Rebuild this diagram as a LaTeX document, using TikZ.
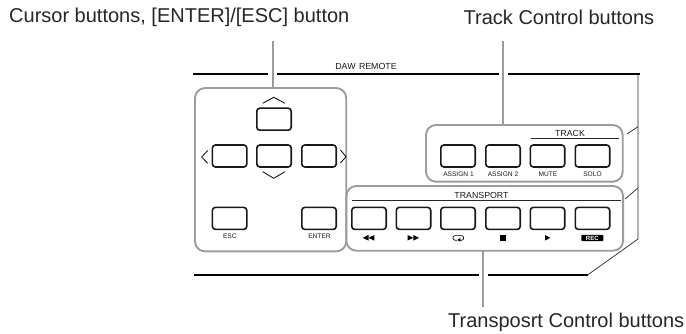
\documentclass[tikz,border=0pt]{standalone}
\usepackage{fontspec}
\setmainfont{Liberation Sans}
\definecolor{panelgray}{HTML}{9C9C9C}
\tikzset{
  btn/.style={draw=black!90,line width=1.6pt,rounded corners=3pt,minimum width=34.4pt,minimum height=22pt,inner sep=0pt,outer sep=0pt},
  panelbox/.style={draw=panelgray,line width=1.9pt,rounded corners=10pt,inner sep=0pt,outer sep=0pt},
  leader/.style={draw=panelgray,line width=2pt},
  bodyrule/.style={draw=black,line width=2.3pt},
  thinline/.style={draw=black!85,line width=0.7pt},
  chev/.style={draw=black,line width=0.8pt},
  smalltext/.style={font=\fontsize{6.6}{7}\selectfont,inner sep=0pt,text=black!90},
  midtext/.style={font=\fontsize{8.8}{9}\selectfont,inner sep=0pt,text=black!90},
  captiontext/.style={font=\fontsize{20}{22}\selectfont,inner sep=0pt,text=black!85},
  iconfill/.style={fill=black,draw=none}
}
\begin{document}
\begin{tikzpicture}[x=1pt,y=-1pt]
\useasboundingbox (0,0) rectangle (686,334);
% body outline
\coordinate (tl1) at (193,74); \coordinate (tl2) at (268,74);
\coordinate (tl3) at (277,74); \coordinate (tl4) at (498.5,74);
\coordinate (tl5) at (507.5,74); \coordinate (tr) at (640,74);
\coordinate (bl1) at (194,275); \coordinate (bl2) at (479,275);
\coordinate (bl3) at (488,275); \coordinate (br) at (587.5,275);
\coordinate (rv1) at (638,74); \coordinate (rv2) at (638,239);
\draw[bodyrule] (tl1) -- (tl2);
\draw[bodyrule] (tl3) -- (tl4);
\draw[bodyrule] (tl5) -- (tr);
\draw[bodyrule] (bl1) -- (bl2);
\draw[bodyrule] (bl3) -- (br);
\draw[thinline] (rv1) -- (rv2) -- (br);
\coordinate (t1a) at (627,134); \coordinate (t1b) at (638,126.7);
\coordinate (t2a) at (625,199); \coordinate (t2b) at (638,188);
\draw[thinline] (t1a) -- (t1b);
\draw[thinline] (t2a) -- (t2b);
\node[midtext] (daw) at (366,66.7) {DAW\hspace{1pt} REMOTE};
% panels
\node[panelbox,minimum width=151.2pt,minimum height=163.3pt] (pcur) at (270.6,169.7) {};
\node[panelbox,minimum width=196.7pt,minimum height=56.7pt] (ptrack) at (524.35,153.35) {};
\node[panelbox,minimum width=276.7pt,minimum height=64.7pt] (ptrans) at (484.7,218.35) {};
% leaders
\coordinate (l1) at (273,41.5); \coordinate (l2) at (502.8,41.5); \coordinate (l3) at (483.3,306.7);
\draw[leader] (l1) -- (pcur.north -| l1);
\draw[leader] (l2) -- (ptrack.north -| l2);
\draw[leader] (ptrans.south -| l3) -- (l3);
% cursor buttons
\node[btn] (up) at (274,119.2) {};
\node[btn] (leftb) at (229.6,156) {};
\node[btn] (center) at (274,156) {};
\node[btn] (rightb) at (319,156) {};
\node[btn] (esc) at (229.6,218.4) {};
\node[btn] (enter) at (319,218.4) {};
\node[smalltext] (esct) at (229.8,236.3) {ESC};
\node[smalltext] (entert) at (319.5,236.3) {ENTER};
\draw[chev] (262.7,103.3) -- (273.7,97.3) -- (285,103.3);
\draw[chev] (262.7,171.7) -- (273.7,178.3) -- (285,171.7);
\draw[chev] (207.7,150.5) -- (201.7,157) -- (207.7,163.3);
\draw[chev] (340.5,150) -- (346,156.7) -- (340.5,163);
% track
\node[midtext] (trackt) at (570,133.3) {TRACK};
\coordinate (tr1) at (531,138.3); \coordinate (tr2) at (619,138.3);
\draw[thinline] (tr1) -- (tr2);
\node[btn] (as1) at (458,156) {};
\node[btn] (as2) at (503,156) {};
\node[btn] (mute) at (547.5,156) {};
\node[btn] (solo) at (592.5,156) {};
\node[smalltext] (as1t) at (458.5,174.5) {ASSIGN 1};
\node[smalltext] (as2t) at (503,174.5) {ASSIGN 2};
\node[smalltext] (mutet) at (548,174.5) {MUTE};
\node[smalltext] (solot) at (592.5,174.5) {SOLO};
% transport
\node[midtext] (transt) at (481.5,195.3) {TRANSPORT};
\coordinate (tp1) at (351.5,200.7); \coordinate (tp2) at (621,200.7);
\draw[thinline] (tp1) -- (tp2);
\node[btn] (rew) at (369,218.4) {};
\node[btn] (ff) at (413.5,218.4) {};
\node[btn] (loop) at (458,218.4) {};
\node[btn] (stop) at (503,218.4) {};
\node[btn] (play) at (547.5,218.4) {};
\node[btn] (rec) at (592.5,218.4) {};
\fill[iconfill] (368.5,235) -- (362.7,237.8) -- (368.5,240.6) -- cycle;
\fill[iconfill] (374.3,235) -- (368.5,237.8) -- (374.3,240.6) -- cycle;
\fill[iconfill] (407.5,235) -- (413.3,237.8) -- (407.5,240.6) -- cycle;
\fill[iconfill] (413.3,235) -- (419.1,237.8) -- (413.3,240.6) -- cycle;
\draw[black,line width=0.7pt,rounded corners=2pt] (456.8,240.2) -- (453,240.2) -- (453,235.6) -- (463.6,235.6) -- (463.6,240.2) -- (460,240.2);
\fill[iconfill] (460.3,238) -- (457.3,240) -- (460.3,241.6) -- cycle;
\fill[iconfill] (500.3,235) rectangle (505.6,240.6);
\fill[iconfill] (545,235) -- (550.3,237.8) -- (545,240.6) -- cycle;
\node[fill=black,text=white,rounded corners=1pt,font=\fontsize{6}{6}\selectfont\bfseries,inner sep=0pt,minimum width=22pt,minimum height=6.4pt] (rect) at (592.3,238) {REC};
% captions
\node[captiontext,anchor=west] (c1) at (9,17.3) {Cursor buttons, [ENTER]/[ESC] button};
\node[captiontext,anchor=west] (c2) at (463.5,17.3) {Track Control buttons};
\node[captiontext,anchor=west] (c3) at (448,322) {Transposrt Control buttons};
\end{tikzpicture}
\end{document}
